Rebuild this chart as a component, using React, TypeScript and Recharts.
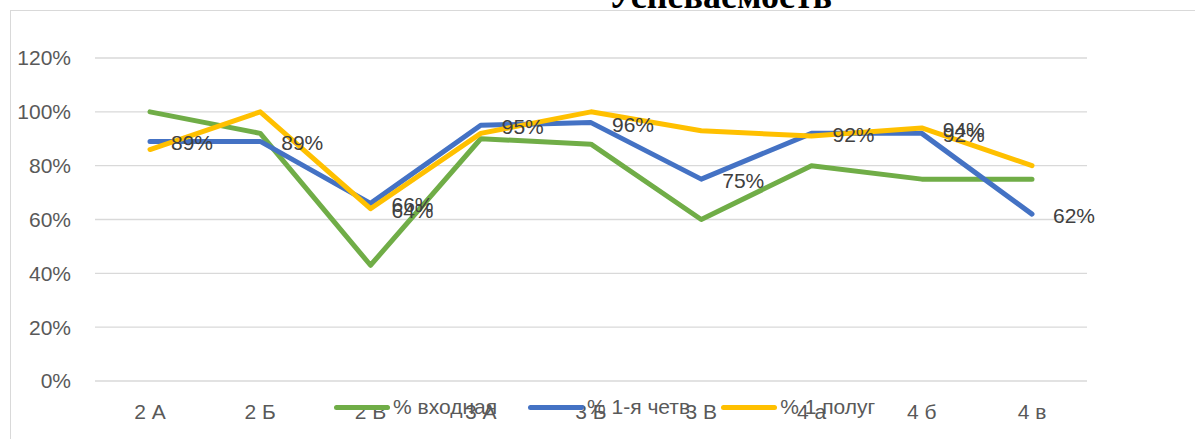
import React from 'react';
import { LineChart, Line, XAxis, YAxis, CartesianGrid, LabelList, Legend } from 'recharts';

const title = 'Успеваемость';
const categories = ['2 А', '2 Б', '2 В', '3 А', '3 Б', '3 В', '4 а', '4 б', '4 в'];
const entryValues = [100, 92, 43, 90, 88, 60, 80, 75, 75];
const firstQuarterValues = [89, 89, 66, 95, 96, 75, 92, 92, 62];
const firstHalfValues = [86, 100, 64, 92, 100, 93, 91, 94, 80];
const firstHalfLabelShown = [false, false, true, false, false, false, false, true, false];
const seriesNames = ['% входная', '% 1-я четв', '% 1 полуг'];
const seriesColors = ['#70AD47', '#4472C4', '#FFC000'];
const yTicks = [0, 20, 40, 60, 80, 100, 120];

const FONT = '"Liberation Sans", Arial, sans-serif';

const data = categories.map((c, i) => ({
  cat: c,
  entry: entryValues[i],
  q1: firstQuarterValues[i],
  half: firstHalfValues[i],
}));

const makeLabel = (show?: boolean[]) => (props: any) => {
  const { x, y, value, index } = props;
  if (show && !show[index]) return null;
  return (
    <text x={x + 21} y={y + 1.5} dy="0.355em" fill="#404040" fontSize={21} fontFamily={FONT}>
      {value}%
    </text>
  );
};

const renderLegend = (props: any) => {
  const items = (props.payload || [])
    .filter((p: any) => seriesNames.indexOf(p.value) >= 0)
    .sort((a: any, b: any) => seriesNames.indexOf(a.value) - seriesNames.indexOf(b.value));
  return (
    <div style={{ display: 'flex', alignItems: 'center' }}>
      {items.map((p: any, i: number) => (
        <div key={i} style={{ display: 'flex', alignItems: 'center', marginRight: 31 }}>
          <span
            style={{
              display: 'inline-block',
              width: 56,
              height: 5,
              borderRadius: 3,
              background: p.color,
              marginRight: 3,
            }}
          />
          <span
            style={{
              fontSize: 21,
              color: '#595959',
              lineHeight: '24px',
              whiteSpace: 'nowrap',
              fontFamily: FONT,
            }}
          >
            {p.value}
          </span>
        </div>
      ))}
    </div>
  );
};

export default function App() {
  return (
    <div
      style={{
        position: 'absolute',
        left: 0,
        top: 0,
        width: 1195,
        height: 439,
        overflow: 'hidden',
        background: '#fff',
      }}
    >
      <div
        style={{
          position: 'absolute',
          left: 10,
          top: 10,
          width: 1300,
          height: 600,
          border: '1.3px solid #d9d9d9',
        }}
      />
      <svg width={1195} height={439} style={{ position: 'absolute', left: 0, top: 0 }}>
        <text
          x={720}
          y={8}
          textAnchor="middle"
          fontFamily='"Liberation Serif", "Times New Roman", serif'
          fontWeight="bold"
          fontSize={36}
          fill="#000"
        >
          {title}
        </text>
      </svg>
      <div style={{ position: 'absolute', left: 0, top: 0 }}>
        <LineChart
          width={1195}
          height={439}
          data={data}
          margin={{ top: 58, right: 108, bottom: 28, left: 10 }}
        >
          <CartesianGrid horizontal vertical={false} stroke="#d9d9d9" strokeWidth={1.3} />
          <XAxis
            dataKey="cat"
            padding={{ left: 55, right: 55 }}
            axisLine={false}
            tickLine={false}
            tickSize={0}
            tickMargin={23}
            height={30}
            interval={0}
            tick={{ fill: '#595959', fontSize: 21, fontFamily: FONT }}
          />
          <YAxis
            domain={[0, 120]}
            ticks={yTicks}
            tickFormatter={(v: number) => `${v}%`}
            axisLine={false}
            tickLine={false}
            tickSize={0}
            tickMargin={24}
            width={85}
            interval={0}
            tick={{ fill: '#595959', fontSize: 21, fontFamily: FONT }}
          />
          <Legend
            layout="horizontal"
            verticalAlign="middle"
            align="center"
            content={renderLegend}
            wrapperStyle={{ top: 395, left: 334, width: 'auto', height: 'auto' }}
          />
          <Line
            type="linear"
            dataKey="entry"
            name={seriesNames[0]}
            stroke={seriesColors[0]}
            strokeWidth={5}
            strokeLinecap="round"
            strokeLinejoin="round"
            dot={false}
            activeDot={false}
            isAnimationActive={false}
          />
          <Line
            type="linear"
            dataKey="q1"
            name={seriesNames[1]}
            stroke={seriesColors[1]}
            strokeWidth={5}
            strokeLinecap="round"
            strokeLinejoin="round"
            dot={false}
            activeDot={false}
            isAnimationActive={false}
          />
          <Line
            type="linear"
            dataKey="half"
            name={seriesNames[2]}
            stroke={seriesColors[2]}
            strokeWidth={5}
            strokeLinecap="round"
            strokeLinejoin="round"
            dot={false}
            activeDot={false}
            isAnimationActive={false}
          >
            <LabelList dataKey="half" content={makeLabel(firstHalfLabelShown)} />
          </Line>
          <Line
            type="linear"
            dataKey="q1"
            name="q1-labels"
            legendType="none"
            stroke="none"
            dot={false}
            activeDot={false}
            isAnimationActive={false}
          >
            <LabelList dataKey="q1" content={makeLabel()} />
          </Line>
        </LineChart>
      </div>
    </div>
  );
}
